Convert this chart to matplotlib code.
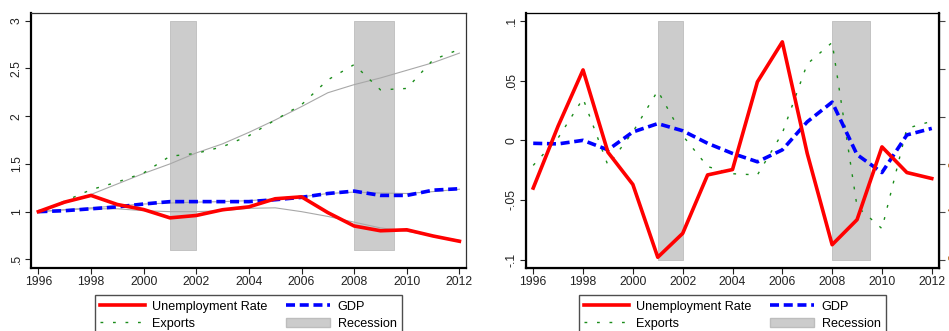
import matplotlib
matplotlib.use('Agg')
import matplotlib.pyplot as plt
from matplotlib.patches import Patch
from matplotlib.lines import Line2D

plt.rcParams['font.family'] = ['Liberation Sans', 'DejaVu Sans']

years = list(range(1996, 2013))

# left panel: levels (1996 = 1)
unemp_level = [1.0, 1.10, 1.17, 1.075, 1.022, 0.935, 0.96, 1.02, 1.05, 1.135, 1.155, 0.99, 0.85, 0.80, 0.81, 0.745, 0.69]
gdp_level = [1.0, 1.01, 1.03, 1.05, 1.08, 1.105, 1.105, 1.105, 1.105, 1.125, 1.15, 1.19, 1.215, 1.17, 1.17, 1.225, 1.24]
exports_level = [1.0, 1.11, 1.23, 1.31, 1.405, 1.58, 1.61, 1.68, 1.795, 1.96, 2.12, 2.38, 2.54, 2.275, 2.29, 2.59, 2.70]

# smooth trends drawn in grey
unemp_trend = [1.0, 1.02, 1.03, 1.03, 1.01, 1.0, 1.0, 1.01, 1.035, 1.04, 1.0, 0.95, 0.89, 0.83, 0.795, 0.745, 0.70]
gdp_trend = [1.0, 1.02, 1.04, 1.06, 1.08, 1.09, 1.10, 1.105, 1.115, 1.135, 1.155, 1.19, 1.205, 1.195, 1.19, 1.21, 1.235]
exports_trend = [1.0, 1.09, 1.18, 1.29, 1.40, 1.50, 1.615, 1.71, 1.83, 1.96, 2.10, 2.245, 2.33, 2.40, 2.48, 2.56, 2.66]

# right panel: cyclical components
unemp_cycle = [-0.040, 0.012, 0.059, -0.010, -0.037, -0.098, -0.078, -0.029, -0.0245, 0.049, 0.0825, -0.011, -0.0875, -0.0665, -0.0055, -0.027, -0.032]
gdp_cycle = [-0.0025, -0.003, 0.0, -0.008, 0.007, 0.014, 0.008, -0.0025, -0.011, -0.018, -0.008, 0.0155, 0.032, -0.012, -0.027, 0.0045, 0.010]
exports_cycle = [-0.021, 0.002, 0.035, -0.021, 0.007, 0.0415, 0.004, -0.022, -0.028, -0.029, 0.006, 0.064, 0.082, -0.0555, -0.074, 0.010, 0.016]

recession_starts = [2001, 2008]
recession_ends = [2002, 2009.5]

left_ticks = [0.5, 1, 1.5, 2, 2.5, 3]
left_ticklabels = ['.5', '1', '1.5', '2', '2.5', '3']
right_ticks = [-0.1, -0.05, 0, 0.05, 0.1]
right_ticklabels = ['-.1', '-.05', '0', '.05', '.1']
twin_ticks = [0, 1, 2, 3, 4, 5]
twin_ticklabels = ['-.2', '-.1', '0', '.1', '.2', '.3']
x_ticks = list(range(1996, 2013, 2))

# legend reads row by row: Unemployment Rate, GDP / Exports, Recession
legend_labels = ['Unemployment Rate', 'Exports', 'GDP', 'Recession']

RED = '#ff0000'
BLUE = '#0000ff'
GREEN = '#1a8c1a'
SHADE = '#cccccc'
TREND = '#a8a8a8'
FS = 8.8


def style_axes(ax, yticks, yticklabels):
    ax.set_xticks(x_ticks)
    ax.set_xticklabels([str(x) for x in x_ticks])
    ax.set_yticks(yticks)
    ax.set_yticklabels(yticklabels, rotation=90, va='center')
    ax.tick_params(axis='both', labelsize=FS, length=4, width=0.8, colors='#222222', pad=2)
    for side in ['left', 'bottom']:
        ax.spines[side].set_linewidth(1.6)
    for side in ['top', 'right']:
        ax.spines[side].set_linewidth(0.9)
        ax.spines[side].set_color('#333333')


def draw_recessions(ax, lo, hi):
    for s, e in zip(recession_starts, recession_ends):
        ax.fill_between([s, e], lo, hi, color=SHADE, edgecolor='#bdbdbd', linewidth=0.6, zorder=1)


def add_legend(fig, ax):
    handles = [
        Line2D([], [], color=RED, lw=2.6),
        Line2D([], [], color=GREEN, lw=1.0, dashes=(2, 7)),
        Line2D([], [], color=BLUE, lw=2.6, dashes=(2.5, 1.3)),
        Patch(facecolor=SHADE, edgecolor='#bdbdbd'),
    ]
    pos = ax.get_position()
    leg = fig.legend(handles, legend_labels, ncol=2, loc='upper center',
                     bbox_to_anchor=(pos.x0 + (pos.x1 - pos.x0) * 0.5, 1 - 295 / 331),
                     borderaxespad=0,
                     fontsize=FS + 0.3, frameon=True, fancybox=False, handlelength=3.5,
                     handletextpad=0.6, columnspacing=1.45, borderpad=0.45, labelspacing=0.4,
                     edgecolor='#222222')
    leg.get_frame().set_linewidth(1.0)


fig = plt.figure(figsize=(9.49, 3.31), dpi=100)

# left panel
ax1 = fig.add_axes([31 / 949, 1 - 268 / 331, 435 / 949, 255 / 331])
draw_recessions(ax1, 0.6, 3.0)
ax1.plot(years, exports_trend, color=TREND, lw=0.8, zorder=2)
ax1.plot(years, gdp_trend, color=TREND, lw=0.8, zorder=2)
ax1.plot(years, unemp_trend, color=TREND, lw=0.8, zorder=2)
ax1.plot(years, exports_level, color=GREEN, lw=1.0, dashes=(2, 7), zorder=3)
ax1.plot(years, gdp_level, color=BLUE, lw=2.6, dashes=(2.5, 1.3), zorder=4)
ax1.plot(years, unemp_level, color=RED, lw=2.6, zorder=5)
ax1.set_xlim(1995.72, 2012.25)
ax1.set_ylim(0.41, 3.08)
style_axes(ax1, left_ticks, left_ticklabels)
add_legend(fig, ax1)

# right panel
ax2 = fig.add_axes([526 / 949, 1 - 268 / 331, 413 / 949, 255 / 331])
draw_recessions(ax2, -0.1, 0.1)
ax2.plot(years, exports_cycle, color=GREEN, lw=1.0, dashes=(2, 7), zorder=3)
ax2.plot(years, gdp_cycle, color=BLUE, lw=2.6, dashes=(2.5, 1.3), zorder=4)
ax2.plot(years, unemp_cycle, color=RED, lw=2.6, zorder=5)
ax2.set_xlim(1995.71, 2012.29)
ax2.set_ylim(-0.107, 0.1067)
style_axes(ax2, right_ticks, right_ticklabels)

# secondary axis on the right, its labels run off the edge
ax3 = ax2.twinx()
ax3.set_ylim(-0.167, 5.167)
ax3.set_yticks(twin_ticks)
ax3.set_yticklabels(twin_ticklabels, rotation=90, va='center')
ax3.tick_params(axis='y', labelsize=FS, length=4, width=0.8, colors='#444444', pad=3)
for t in ax3.get_yticklabels():
    t.set_color('#b5651d')
ax3.spines['right'].set_linewidth(1.6)
add_legend(fig, ax2)

fig.savefig('out.png', dpi=100)
